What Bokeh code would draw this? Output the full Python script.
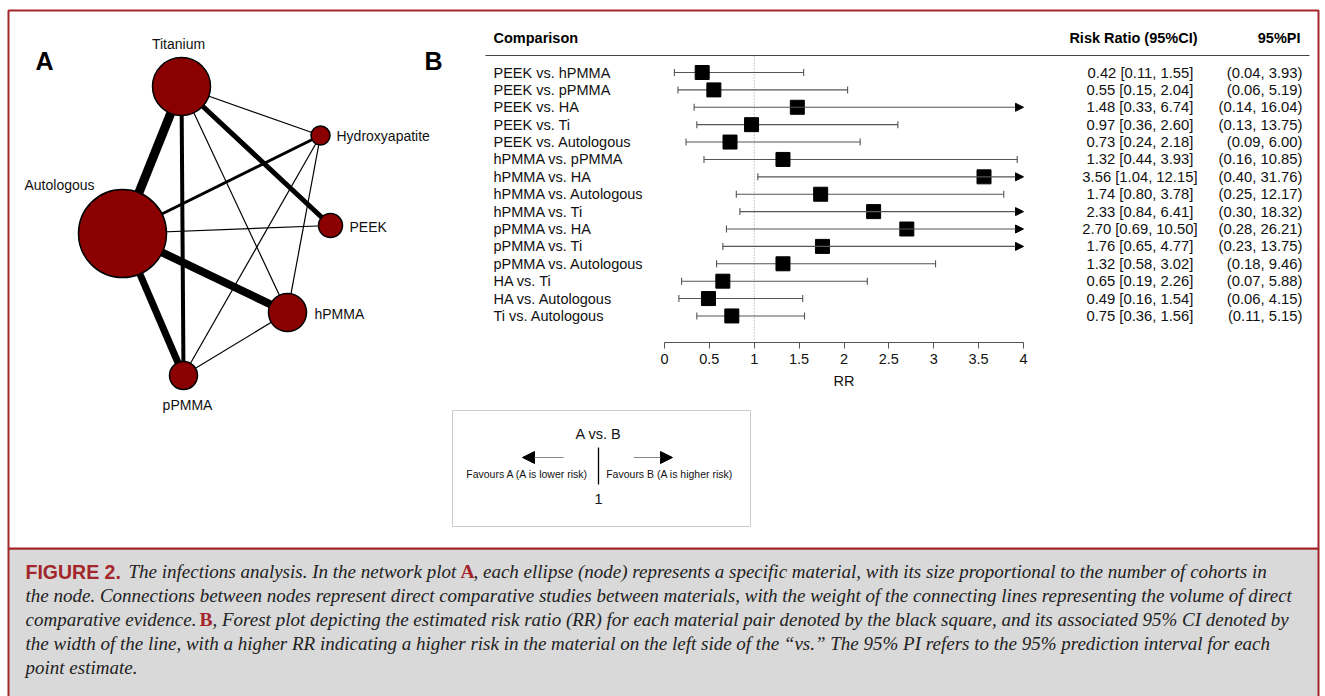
from bokeh.plotting import figure
from bokeh.models import (Range1d, LinearAxis, FixedTicker, CustomJSTickFormatter,
                          Arrow, NormalHead, ColumnDataSource)
from bokeh.core.properties import value
from bokeh.embed import file_html
from bokeh.resources import INLINE

# ---------------- data ----------------
comparisons = ["PEEK vs. hPMMA", "PEEK vs. pPMMA", "PEEK vs. HA", "PEEK vs. Ti",
               "PEEK vs. Autologous", "hPMMA vs. pPMMA", "hPMMA vs. HA",
               "hPMMA vs. Autologous", "hPMMA vs. Ti", "pPMMA vs. HA", "pPMMA vs. Ti",
               "pPMMA vs. Autologous", "HA vs. Ti", "HA vs. Autologous", "Ti vs. Autologous"]
rr = [0.42, 0.55, 1.48, 0.97, 0.73, 1.32, 3.56, 1.74, 2.33, 2.70, 1.76, 1.32, 0.65, 0.49, 0.75]
ci_lo = [0.11, 0.15, 0.33, 0.36, 0.24, 0.44, 1.04, 0.80, 0.84, 0.69, 0.65, 0.58, 0.19, 0.16, 0.36]
ci_hi = [1.55, 2.04, 6.74, 2.60, 2.18, 3.93, 12.15, 3.78, 6.41, 10.50, 4.77, 3.02, 2.26, 1.54, 1.56]
pi_lo = [0.04, 0.06, 0.14, 0.13, 0.09, 0.16, 0.40, 0.25, 0.30, 0.28, 0.23, 0.18, 0.07, 0.06, 0.11]
pi_hi = [3.93, 5.19, 16.04, 13.75, 6.00, 10.85, 31.76, 12.17, 18.32, 26.21, 13.75, 9.46, 5.88, 4.15, 5.15]
rr_ticks = [0, 0.5, 1, 1.5, 2, 2.5, 3, 3.5, 4]
RR_MIN, RR_MAX = 0, 4

# network: nodes
node_names = ["Titanium", "Hydroxyapatite", "PEEK", "Autologous", "hPMMA", "pPMMA"]
node_x = [181, 320, 330, 122, 287, 183]
node_y = [86, 135, 225, 233, 312, 375]
node_r = [29, 9.5, 12, 44, 19, 14]
# network: edges (from, to, weight)
edge_from = ["Titanium", "Titanium", "Titanium", "Titanium", "Titanium",
             "Autologous", "Autologous", "Autologous", "Autologous",
             "Hydroxyapatite", "Hydroxyapatite", "hPMMA"]
edge_to = ["Autologous", "pPMMA", "PEEK", "Hydroxyapatite", "hPMMA",
           "Hydroxyapatite", "PEEK", "hPMMA", "pPMMA",
           "hPMMA", "pPMMA", "pPMMA"]
edge_w = [9, 4, 5, 1.2, 1.2, 3, 1.2, 8, 7, 1.2, 1.2, 1.2]

# ---------------- figure ----------------
W, H = 1325, 696
p = figure(width=W, height=H, x_range=Range1d(0, W), y_range=Range1d(H, 0),
           output_backend="svg", toolbar_location=None, min_border=0,
           x_axis_location=None, y_axis_location=None)
p.grid.visible = False
p.outline_line_color = None
p.background_fill_color = "white"
p.border_fill_color = "white"

RED = "#a3262a"
SANS = value("Liberation Sans")
SERIF = value("Liberation Serif")

# frame boxes
p.quad(left=[8], right=[1318], top=[548], bottom=[H + 5], fill_color="#d9d9d9",
       line_color=RED, line_width=2)
p.quad(left=[8], right=[1318], top=[10], bottom=[548], fill_color="white",
       line_color=RED, line_width=2)

# ---------------- panel A: network ----------------
pos = {n: (x, y) for n, x, y in zip(node_names, node_x, node_y)}
p.segment(x0=[pos[a][0] for a in edge_from], y0=[pos[a][1] for a in edge_from],
          x1=[pos[b][0] for b in edge_to], y1=[pos[b][1] for b in edge_to],
          line_width=edge_w, line_color="black")
p.circle(x=node_x, y=node_y, radius=node_r, fill_color="#8b0000",
         line_color="black", line_width=1.5)

p.text(x=[178], y=[43], text=["Titanium"], text_align="center", text_baseline="middle",
       text_font=SANS, text_font_size="14px", text_color="#111")
p.text(x=[336, 349, 314], y=[135, 226, 313], text=["Hydroxyapatite", "PEEK", "hPMMA"],
       text_align="left", text_baseline="middle", text_font=SANS, text_font_size="14px",
       text_color="#111")
p.text(x=[24], y=[184], text=["Autologous"], text_align="left", text_baseline="middle",
       text_font=SANS, text_font_size="14px", text_color="#111")
p.text(x=[187], y=[404], text=["pPMMA"], text_align="center", text_baseline="middle",
       text_font=SANS, text_font_size="14px", text_color="#111")

p.text(x=[35, 424], y=[60, 60], text=["A", "B"], text_baseline="middle",
       text_font=SANS, text_font_size="25px", text_font_style="bold", text_color="black")

# ---------------- panel B: forest ----------------
PX0, PX1 = 664, 1023          # pixel span of RR axis
ppu = (PX1 - PX0) / (RR_MAX - RR_MIN)
p.extra_x_ranges = {"rr": Range1d(RR_MIN - PX0 / ppu, RR_MIN + (W - PX0) / ppu)}

row_y0, row_step = 72, 17.39
row_y = [row_y0 + i * row_step for i in range(len(comparisons))]

# header
p.text(x=[493], y=[37], text=["Comparison"], text_align="left", text_baseline="middle",
       text_font=SANS, text_font_size="14.5px", text_font_style="bold", text_color="black")
p.text(x=[1197, 1300], y=[37, 37], text=["Risk Ratio (95%CI)", "95%PI"], text_align="right",
       text_baseline="middle", text_font=SANS, text_font_size="14.5px",
       text_font_style="bold", text_color="black")
p.segment(x0=[485], y0=[55], x1=[1309], y1=[55], line_color="#444", line_width=1.2)

# reference line at RR = 1
p.segment(x0=[1], y0=[56], x1=[1], y1=[341], x_range_name="rr",
          line_color="#999", line_width=1, line_dash="1 2")

# CI lines
in_idx = [i for i in range(len(rr)) if ci_hi[i] <= RR_MAX]
out_idx = [i for i in range(len(rr)) if ci_hi[i] > RR_MAX]
CI_COL = "#555"
p.segment(x0=[ci_lo[i] for i in in_idx], x1=[ci_hi[i] for i in in_idx],
          y0=[row_y[i] for i in in_idx], y1=[row_y[i] for i in in_idx],
          x_range_name="rr", line_color=CI_COL, line_width=1.1)
# caps
cap_x = ci_lo + [ci_hi[i] for i in in_idx]
cap_y = row_y + [row_y[i] for i in in_idx]
p.segment(x0=cap_x, x1=cap_x, y0=[y - 3.5 for y in cap_y], y1=[y + 3.5 for y in cap_y],
          x_range_name="rr", line_color=CI_COL, line_width=1.1)
# arrows for upper limits beyond axis
arr_src = ColumnDataSource(dict(x0=[ci_lo[i] for i in out_idx],
                                x1=[RR_MAX] * len(out_idx),
                                y=[row_y[i] for i in out_idx]))
p.add_layout(Arrow(x_start="x0", x_end="x1", y_start="y", y_end="y", source=arr_src,
                   x_range_name="rr", line_color=CI_COL, line_width=1.1,
                   end=NormalHead(size=8, fill_color="black", line_color="black",
                                  line_width=1)))
# point estimates
p.scatter(x=rr, y=row_y, x_range_name="rr", marker="square", size=14,
          fill_color="black", line_color="black")

# labels
p.text(x=[493] * len(comparisons), y=row_y, text=comparisons, text_align="left",
       text_baseline="middle", text_font=SANS, text_font_size="14.5px", text_color="#111")
rr_txt = [f"{a:.2f} [{b:.2f}, {c:5.2f}]" for a, b, c in zip(rr, ci_lo, ci_hi)]
pi_txt = [f"({a:.2f}, {b:.2f})" for a, b in zip(pi_lo, pi_hi)]
p.text(x=[1197] * len(rr), y=row_y, text=rr_txt, text_align="right", text_baseline="middle",
       text_font=SANS, text_font_size="14.8px", text_color="#111")
p.text(x=[1302] * len(rr), y=row_y, text=pi_txt, text_align="right", text_baseline="middle",
       text_font=SANS, text_font_size="14.8px", text_color="#111")

# RR axis
ax = LinearAxis(x_range_name="rr", fixed_location=342, bounds=(RR_MIN, RR_MAX),
                ticker=FixedTicker(ticks=rr_ticks),
                formatter=CustomJSTickFormatter(code="return tick.toString()"),
                axis_label="RR")
ax.axis_line_color = "#555"
ax.major_tick_line_color = "#555"
ax.major_tick_out = 6
ax.major_tick_in = 0
ax.minor_tick_out = 0
ax.minor_tick_in = 0
ax.major_label_standoff = 5
ax.major_label_text_font = "Liberation Sans"
ax.major_label_text_font_size = "14.5px"
ax.major_label_text_color = "#111"
ax.axis_label_text_font = "Liberation Sans"
ax.axis_label_text_font_size = "14.5px"
ax.axis_label_text_font_style = "normal"
ax.axis_label_text_color = "#111"
ax.axis_label_standoff = 6
p.add_layout(ax, "below")

# ---------------- legend box ----------------
p.quad(left=[452], right=[750], top=[410], bottom=[526], fill_color="white",
       line_color="#cccccc", line_width=1)
p.text(x=[598], y=[433], text=["A vs. B"], text_align="center", text_baseline="middle",
       text_font=SANS, text_font_size="14.5px", text_color="#111")
p.segment(x0=[598], y0=[447], x1=[598], y1=[484], line_color="black", line_width=1.3)
p.add_layout(Arrow(x_start=563, y_start=457, x_end=522, y_end=457, line_color="#888",
                   line_width=1.2,
                   end=NormalHead(size=12, fill_color="black", line_color="black")))
p.add_layout(Arrow(x_start=633, y_start=457, x_end=672, y_end=457, line_color="#888",
                   line_width=1.2,
                   end=NormalHead(size=12, fill_color="black", line_color="black")))
p.text(x=[527, 669], y=[473, 473],
       text=["Favours A (A is lower risk)", "Favours B (A is higher risk)"],
       text_align="center", text_baseline="middle", text_font=SANS,
       text_font_size="10.5px", text_color="#111")
p.text(x=[598], y=[498], text=["1"], text_align="center", text_baseline="middle",
       text_font=SANS, text_font_size="14.5px", text_color="#111")

# ---------------- caption ----------------
CAP = "19px"
CAPCOL = "#222"
p.text(x=[25], y=[571], text=["FIGURE 2."], text_baseline="middle", text_font=SANS,
       text_font_size="19.5px", text_font_style="bold", text_color=RED)
cap_x = [128, 473, 25, 212, 25, 25]
cap_y = [571, 571, 595, 619, 643, 667]
cap_t = ["The infections analysis. In the network plot",
         ", each ellipse (node) represents a specific material, with its size proportional to the number of cohorts in",
         "the node. Connections between nodes represent direct comparative studies between materials, with the weight of the connecting lines representing the volume of direct",
         ", Forest plot depicting the estimated risk ratio (RR) for each material pair denoted by the black square, and its associated 95% CI denoted by",
         "the width of the line, with a higher RR indicating a higher risk in the material on the left side of the \u201cvs.\u201d The 95% PI refers to the 95% prediction interval for each",
         "point estimate."]
p.text(x=cap_x, y=cap_y, text=cap_t, text_baseline="middle", text_align="left",
       text_font=SERIF, text_font_size=CAP, text_font_style="italic", text_color=CAPCOL)
p.text(x=[25], y=[619], text=["comparative evidence."], text_baseline="middle",
       text_font=SERIF, text_font_size=CAP, text_font_style="italic", text_color=CAPCOL)
p.text(x=[460, 199], y=[571, 619], text=["A", "B"], text_baseline="middle",
       text_font=SERIF, text_font_size="19.5px", text_font_style="bold", text_color=RED)

open("out.html", "w").write(file_html(p, INLINE))
